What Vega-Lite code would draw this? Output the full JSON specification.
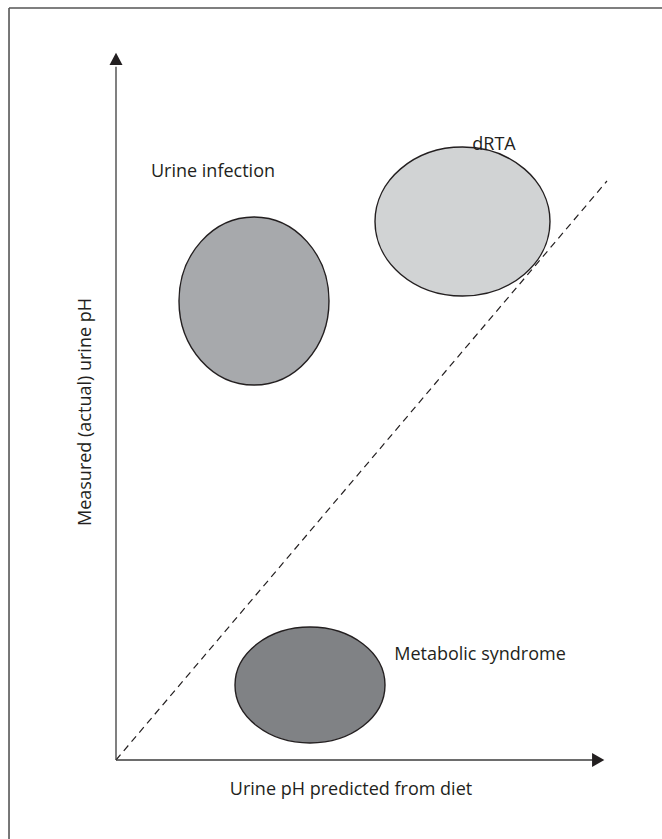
{
  "$schema": "https://vega.github.io/schema/vega-lite/v6.json",
  "width": 662,
  "height": 839,
  "padding": 0,
  "autosize": {"type": "none"},
  "config": {"view": {"stroke": null}},
  "background": "white",
  "encoding": {
    "x": {"field": "x", "type": "quantitative", "axis": null, "scale": {"domain": [-2.3756, 11.1817], "nice": false, "zero": false}},
    "y": {"field": "y", "type": "quantitative", "axis": null, "scale": {"domain": [-1.1169, 10.745], "nice": false, "zero": false}}
  },
  "layer": [
    {
      "data": {"values": [
        {"x": -2.191, "y": 10.632, "x2": 11.1817, "y2": 10.632},
        {"x": -2.191, "y": 10.632, "x2": -2.191, "y2": -1.1169}
      ]},
      "mark": {"type": "rule", "color": "#555555", "strokeWidth": 1.6},
      "encoding": {"x2": {"field": "x2"}, "y2": {"field": "y2"}}
    },
    {
      "data": {"values": [
        {"x": 0, "y": 0, "x2": 10.055, "y2": 8.186}
      ]},
      "mark": {"type": "rule", "color": "#231f20", "strokeWidth": 1.2, "strokeDash": [7, 5]},
      "encoding": {"x2": {"field": "x2"}, "y2": {"field": "y2"}}
    },
    {
      "data": {"values": [
        {"x": 0, "y": 0, "x2": 9.8, "y2": 0},
        {"x": 0, "y": 0, "x2": 0, "y2": 9.8}
      ]},
      "mark": {"type": "rule", "color": "#3c3c3c", "strokeWidth": 1.3},
      "encoding": {"x2": {"field": "x2"}, "y2": {"field": "y2"}}
    },
    {
      "data": {"values": [{"x": 0, "y": 10}]},
      "mark": {"type": "point", "filled": true, "opacity": 1, "color": "#231f20", "size": 169, "shape": "M 0 0 L -1 1.9 L 1 1.9 Z", "strokeWidth": 0}
    },
    {
      "data": {"values": [{"x": 10, "y": 0}]},
      "mark": {"type": "point", "filled": true, "opacity": 1, "color": "#231f20", "size": 196, "shape": "M 0 0 L -1.75 -1 L -1.75 1 Z", "strokeWidth": 0}
    },
    {
      "data": {"values": [{"x": 2.826, "y": 6.489, "group": "Urine infection"}]},
      "mark": {"type": "point", "filled": true, "opacity": 1, "fill": "#a7a9ac", "stroke": "#231f20", "strokeWidth": 1.4, "size": 22500,
        "shape": "M 1 0 C 1 0.6186 0.5523 1.12 0 1.12 C -0.5523 1.12 -1 0.6186 -1 0 C -1 -0.6186 -0.5523 -1.12 0 -1.12 C 0.5523 -1.12 1 -0.6186 1 0 Z"}
    },
    {
      "data": {"values": [{"x": 7.096, "y": 7.613, "group": "dRTA"}]},
      "mark": {"type": "point", "filled": true, "opacity": 1, "fill": "#d1d3d4", "stroke": "#231f20", "strokeWidth": 1.4, "size": 30625,
        "shape": "M 1 0 C 1 0.470 0.5523 0.851 0 0.851 C -0.5523 0.851 -1 0.470 -1 0 C -1 -0.470 -0.5523 -0.851 0 -0.851 C 0.5523 -0.851 1 -0.470 1 0 Z"}
    },
    {
      "data": {"values": [{"x": 3.973, "y": 1.060, "group": "Metabolic syndrome"}]},
      "mark": {"type": "point", "filled": true, "opacity": 1, "fill": "#808285", "stroke": "#231f20", "strokeWidth": 1.4, "size": 22500,
        "shape": "M 1 0 C 1 0.427 0.5523 0.773 0 0.773 C -0.5523 0.773 -1 0.427 -1 0 C -1 -0.427 -0.5523 -0.773 0 -0.773 C 0.5523 -0.773 1 -0.427 1 0 Z"}
    },
    {
      "data": {"values": [
        {"x": 1.986, "y": 8.313, "label": "Urine infection"},
        {"x": 7.741, "y": 8.695, "label": "dRTA"},
        {"x": 7.454, "y": 1.485, "label": "Metabolic syndrome"},
        {"x": 4.813, "y": -0.424, "label": "Urine pH predicted from diet"}
      ]},
      "mark": {"type": "text", "font": "Open Sans", "fontSize": 18, "color": "#231f20", "align": "center", "baseline": "middle"},
      "encoding": {"text": {"field": "label"}}
    },
    {
      "data": {"values": [
        {"x": -0.614, "y": 4.92, "label": "Measured (actual) urine pH"}
      ]},
      "mark": {"type": "text", "font": "Open Sans", "fontSize": 18, "color": "#231f20", "align": "center", "baseline": "middle", "angle": 270},
      "encoding": {"text": {"field": "label"}}
    }
  ]
}
